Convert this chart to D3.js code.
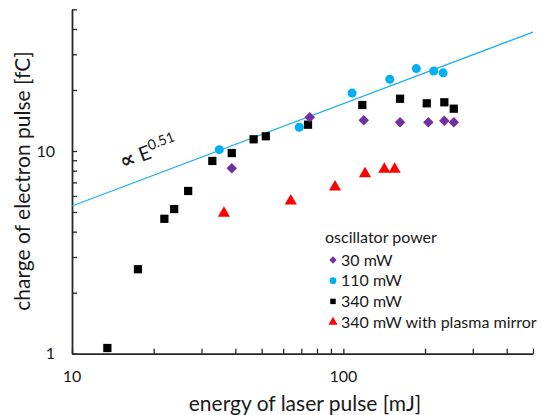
<!DOCTYPE html>
<html>
<head>
<meta charset="utf-8">
<script src="https://cdn.jsdelivr.net/npm/d3@7"></script>
<style>
  body { margin: 0; background: #fff; }
  svg text { font-family: Lato, "Open Sans", sans-serif; fill: #1a1a1a; }
</style>
</head>
<body>
<div id="chart"></div>
<script>
// values
var e30 = [38.8, 75.2, 118.9, 161.8, 205.7, 235.6, 255.3];
var q30 = [8.22, 14.67, 14.17, 13.86, 13.86, 14.11, 13.86];

var e110 = [34.9, 68.8, 107.7, 148.3, 185.8, 215.4, 233.2];
var q110 = [10.15, 13.1, 19.3, 22.6, 25.5, 24.8, 24.3];

var e340 = [13.5, 17.5, 21.9, 23.8, 26.8, 32.9, 38.8, 46.7, 51.8, 74.1, 117.5, 161.8, 203, 235.6, 255.3];
var q340 = [1.067, 2.61, 4.63, 5.17, 6.35, 8.93, 9.77, 11.42, 11.82, 13.48, 16.86, 18.1, 17.19, 17.39, 16.17];

var ePM = [36.3, 64, 93.2, 120.2, 141.6, 154.6];
var qPM = [4.93, 5.67, 6.64, 7.73, 8.12, 8.12];

// power-law fit line endpoints (∝ E^0.51)
var fitE = [10, 500];
var fitQ = [5.35, 38.6];

var legendTitle = "oscillator power";
var seriesNames = ["30 mW", "110 mW", "340 mW", "340 mW with plasma mirror"];
var xTickLabels = [10, 100];
var yTickLabels = [1, 10];

var svgWidth = 542;
var svgHeight = 415;

var margin = {top: 9.3, right: 9, bottom: 61.3, left: 72};
var width = svgWidth - margin.left - margin.right;
var height = svgHeight - margin.top - margin.bottom;

var svg = d3.select("#chart")
  .append("svg")
  .attr("width", svgWidth)
  .attr("height", svgHeight);

var g = svg.append("g")
  .attr("transform", "translate(" + margin.left + "," + margin.top + ")");

var x = d3.scaleLog().domain([10, 500]).range([0, width]);
var y = d3.scaleLog().domain([1, 50]).range([height, 0]);

var axisColor = "#262626";

// minor + major tick values
var xTicks = [];
[10, 100].forEach(function(b) { for (var i = 1; i < 10; i++) if (b * i <= 500) xTicks.push(b * i); });
var yTicks = [];
[1, 10].forEach(function(b) { for (var i = 1; i < 10; i++) if (b * i <= 50) yTicks.push(b * i); });

// x axis, ticks pointing into the plot
var xAxis = g.append("g")
  .attr("transform", "translate(0," + height + ")")
  .call(d3.axisBottom(x).tickValues(xTicks).tickSize(-5).tickSizeOuter(0).tickFormat(""));
xAxis.select(".domain").attr("stroke", axisColor).attr("stroke-width", 1.8);
xAxis.selectAll(".tick line").attr("stroke", axisColor).attr("stroke-width", 1.3);

xAxis.selectAll(".lbl")
  .data(xTickLabels)
  .enter().append("text")
  .attr("class", "lbl")
  .attr("x", function(d) { return x(d); })
  .attr("y", 28)
  .attr("text-anchor", "middle")
  .style("font-size", "16px")
  .text(function(d) { return d; });

var yAxis = g.append("g")
  .call(d3.axisLeft(y).tickValues(yTicks).tickSize(-5).tickSizeOuter(0).tickFormat(""));
yAxis.select(".domain").attr("stroke", axisColor).attr("stroke-width", 1.8);
yAxis.selectAll(".tick line").attr("stroke", axisColor).attr("stroke-width", 1.3);

yAxis.selectAll(".lbl")
  .data(yTickLabels)
  .enter().append("text")
  .attr("class", "lbl")
  .attr("x", -17)
  .attr("y", function(d) { return y(d); })
  .attr("dy", "0.35em")
  .attr("text-anchor", "end")
  .style("font-size", "16px")
  .text(function(d) { return d; });

// axis titles
svg.append("text")
  .attr("x", 305)
  .attr("y", 411)
  .attr("text-anchor", "middle")
  .style("font-size", "21px")
  .text("energy of laser pulse [mJ]");

svg.append("text")
  .attr("transform", "translate(30,181) rotate(-90)")
  .attr("text-anchor", "middle")
  .style("font-size", "21px")
  .text("charge of electron pulse [fC]");

// fit line
var fitData = fitE.map(function(e, i) { return [e, fitQ[i]]; });
g.append("path")
  .datum(fitData)
  .attr("fill", "none")
  .attr("stroke", "#1AB0EC")
  .attr("stroke-width", 1.2)
  .attr("d", d3.line().x(function(d) { return x(d[0]); }).y(function(d) { return y(d[1]); }));

var fitLabel = g.append("text")
  .attr("transform", "translate(" + x(15.4) + "," + y(8.15) + ") rotate(-20.6)")
  .style("font-size", "20px");
fitLabel.append("tspan")
  .style("font-family", "'DejaVu Sans'")
  .style("font-size", "21px")
  .style("font-weight", "bold")
  .text("\u221D");
fitLabel.append("tspan").text(" E");
fitLabel.append("tspan").attr("dy", -8).style("font-size", "14px").text("0.51");

// marker shapes
var series = [
  {e: e340, q: q340, sym: d3.symbolSquare, size: 68, color: "#000000"},
  {e: e110, q: q110, sym: d3.symbolCircle, size: 64, color: "#00B0F0"},
  {e: e30, q: q30, sym: d3.symbolDiamond2, size: 70, color: "#7030A0"},
  {e: ePM, q: qPM, sym: d3.symbolTriangle, size: 64, color: "#FF0000"}
];

series.forEach(function(s) {
  var pts = s.e.map(function(e, i) { return [e, s.q[i]]; });
  g.append("g").selectAll("path")
    .data(pts)
    .enter().append("path")
    .attr("transform", function(d) { return "translate(" + x(d[0]) + "," + y(d[1]) + ")"; })
    .attr("d", d3.symbol().type(s.sym).size(s.size))
    .attr("fill", s.color);
});

// legend
var legend = svg.append("g").attr("transform", "translate(325,243)");
legend.append("text")
  .attr("x", 0).attr("y", 0)
  .style("font-size", "16px")
  .text(legendTitle);

var legendItems = [
  {sym: d3.symbolDiamond2, size: 34, color: "#7030A0"},
  {sym: d3.symbolCircle, size: 36, color: "#00B0F0"},
  {sym: d3.symbolSquare, size: 30, color: "#000000"},
  {sym: d3.symbolTriangle, size: 36, color: "#FF0000"}
];

legendItems.forEach(function(it, i) {
  var row = legend.append("g").attr("transform", "translate(0," + (17 + i * 20.7) + ")");
  row.append("path")
    .attr("transform", "translate(8,0)")
    .attr("d", d3.symbol().type(it.sym).size(it.size))
    .attr("fill", it.color);
  row.append("text")
    .attr("x", 16).attr("y", 0).attr("dy", "0.35em")
    .style("font-size", "16px")
    .text(seriesNames[i]);
});
</script>
</body>
</html>
